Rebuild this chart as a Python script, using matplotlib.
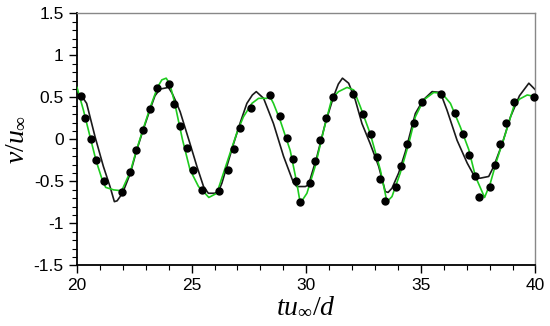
import matplotlib
matplotlib.use("Agg")
import matplotlib.pyplot as plt
from matplotlib.ticker import MultipleLocator

# Black line (simulation 1)
black_t = [20.0, 20.2, 20.42, 20.79, 21.15, 21.44, 21.63, 21.75, 21.88, 22.0, 22.33, 22.59, 22.88, 23.19,
           23.40, 23.62, 23.99, 24.15, 24.35, 24.50, 24.93, 25.23, 25.52, 25.73, 26.0, 26.17, 26.32, 26.83,
           27.12, 27.41, 27.65, 27.82, 28.14, 28.57, 29.01, 29.45, 29.59, 29.96, 30.10, 30.47, 30.83, 31.19,
           31.40, 31.58, 31.85, 32.14, 32.43, 32.79, 33.16, 33.45, 33.57, 33.74, 34.03, 34.32, 34.76, 35.1,
           35.49, 35.85, 36.14, 36.58, 37.02, 37.38, 37.60, 37.96, 38.18, 38.55, 38.91, 39.3, 39.71, 40.0]
black_v = [0.55, 0.52, 0.43, 0.03, -0.32, -0.56, -0.74, -0.73, -0.68, -0.63, -0.40, -0.14, 0.11, 0.36,
           0.52, 0.60, 0.62, 0.55, 0.43, 0.33, -0.05, -0.32, -0.56, -0.64, -0.64, -0.62, -0.52, -0.05,
           0.20, 0.43, 0.53, 0.57, 0.49, 0.19, -0.20, -0.52, -0.56, -0.56, -0.54, -0.20, 0.19, 0.51,
           0.66, 0.73, 0.67, 0.47, 0.19, -0.05, -0.32, -0.62, -0.63, -0.58, -0.40, -0.15, 0.31, 0.47,
           0.57, 0.56, 0.35, -0.01, -0.28, -0.46, -0.46, -0.44, -0.32, -0.05, 0.27, 0.52, 0.67, 0.59]

# Green line (simulation 2)
green_t = [20.0, 20.28, 20.6, 20.83, 21.1, 21.25, 21.6, 21.95, 22.33, 22.59, 22.88, 23.19, 23.51, 23.7,
           23.89, 24.05, 24.25, 24.42, 24.60, 24.93, 25.30, 25.55, 25.75, 26.10, 26.68, 27.0, 27.26, 27.63,
           27.92, 28.28, 28.40, 28.57, 28.86, 29.30, 29.59, 29.74, 30.03, 30.39, 30.76, 31.12, 31.41, 31.78,
           32.07, 32.36, 32.79, 33.23, 33.52, 33.74, 34.10, 34.47, 34.76, 35.12, 35.56, 35.92, 36.29, 36.72,
           37.09, 37.38, 37.78, 38.03, 38.32, 38.69, 39.05, 39.30, 39.64, 40.0]
green_v = [0.62, 0.35, 0.0, -0.25, -0.48, -0.57, -0.60, -0.61, -0.38, -0.13, 0.12, 0.38, 0.62, 0.71,
           0.73, 0.66, 0.45, 0.23, 0.0, -0.36, -0.56, -0.63, -0.69, -0.64, -0.16, 0.10, 0.27, 0.43,
           0.49, 0.49, 0.52, 0.43, 0.23, -0.13, -0.52, -0.76, -0.64, -0.32, 0.11, 0.49, 0.57, 0.62,
           0.59, 0.39, 0.07, -0.36, -0.74, -0.68, -0.40, -0.05, 0.27, 0.47, 0.56, 0.55, 0.43, 0.15,
           -0.12, -0.44, -0.69, -0.52, -0.24, 0.07, 0.39, 0.48, 0.53, 0.51]

# Black dots (experiment)
dot_t = [20.16, 20.36, 20.60, 20.83, 21.19, 21.98, 22.33, 22.59, 22.88, 23.19, 23.51, 24.02, 24.25, 24.51,
         24.80, 25.08, 25.45, 26.21, 26.58, 26.84, 27.12, 27.60, 28.43, 28.86, 29.18, 29.42, 29.55, 29.72,
         30.17, 30.38, 30.62, 30.87, 31.17, 32.02, 32.49, 32.83, 33.09, 33.20, 33.42, 33.93, 34.14, 34.38,
         34.69, 35.07, 35.90, 36.48, 36.86, 37.12, 37.34, 37.55, 38.00, 38.24, 38.47, 38.73, 39.05, 39.93]
dot_v = [0.52, 0.26, 0.00, -0.25, -0.49, -0.63, -0.39, -0.13, 0.11, 0.36, 0.61, 0.66, 0.42, 0.16,
         -0.10, -0.36, -0.60, -0.61, -0.36, -0.11, 0.14, 0.37, 0.53, 0.28, 0.02, -0.23, -0.49, -0.75,
         -0.52, -0.26, -0.01, 0.25, 0.50, 0.54, 0.30, 0.06, -0.21, -0.47, -0.73, -0.57, -0.31, -0.05,
         0.20, 0.45, 0.54, 0.32, 0.07, -0.18, -0.43, -0.69, -0.56, -0.30, -0.05, 0.20, 0.45, 0.50]

x_ticks = [20, 25, 30, 35, 40]
y_ticks = [-1.5, -1, -0.5, 0, 0.5, 1, 1.5]
y_ticklabels = ["-1.5", "-1", "-0.5", "0", "0.5", "1", "1.5"]

plt.rcParams['mathtext.fontset'] = 'custom'
plt.rcParams['mathtext.rm'] = 'Liberation Serif'
plt.rcParams['mathtext.it'] = 'Liberation Serif:italic'
plt.rcParams['font.family'] = ['Liberation Sans', 'DejaVu Sans']

fig = plt.figure(figsize=(5.5, 3.26), dpi=100)
ax = fig.add_axes([0.14, 0.1856, 0.8336, 0.773])

ax.plot(black_t, black_v, color='#1a1a1a', lw=1.2, zorder=2)
ax.plot(green_t, green_v, color='#1ecb1e', lw=1.2, zorder=3)
ax.plot(dot_t, dot_v, 'o', color='black', ms=5, zorder=4, clip_on=False)

ax.set_xlim(20, 40)
ax.set_ylim(-1.5, 1.5)
ax.set_xticks(x_ticks)
ax.set_xticklabels([str(v) for v in x_ticks])
ax.set_yticks(y_ticks)
ax.set_yticklabels(y_ticklabels)
ax.xaxis.set_minor_locator(MultipleLocator(1))
ax.yaxis.set_minor_locator(MultipleLocator(0.1))
ax.tick_params(which='major', direction='out', length=6, width=1.0, labelsize=12.5,
               top=False, right=False, colors='black')
ax.tick_params(which='minor', direction='out', length=3.5, width=0.8, top=False, right=False)
ax.tick_params(axis='x', pad=3)

for s in ['left', 'bottom']:
    ax.spines[s].set_linewidth(1.3)
    ax.spines[s].set_color('black')
for s in ['top', 'right']:
    ax.spines[s].set_linewidth(1.0)
    ax.spines[s].set_color('#888888')

ax.set_xlabel(r'$tu_{\infty}/d$', fontsize=20, labelpad=0)
ax.set_ylabel(r'$v/u_{\infty}$', fontsize=20, labelpad=4)

fig.savefig('out.png', dpi=100)
